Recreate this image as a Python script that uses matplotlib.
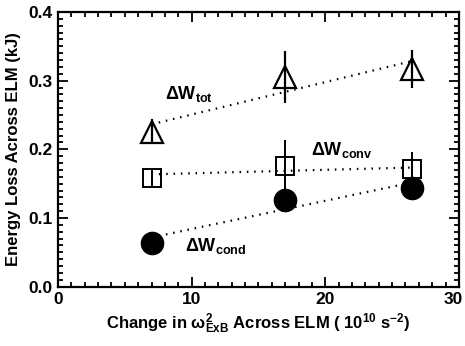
import matplotlib
matplotlib.use("Agg")
import matplotlib.pyplot as plt
from matplotlib.ticker import MultipleLocator

# data
omega = [7.0, 17.0, 26.5]
w_tot = [0.2255, 0.305, 0.317]
w_tot_err = [0.018, 0.038, 0.028]
w_conv = [0.159, 0.176, 0.171]
w_conv_err = [0.012, 0.037, 0.025]
w_cond = [0.063, 0.126, 0.143]

# dotted fit lines (end points)
fit_x = [7.0, 26.5]
fit_tot = [0.2365, 0.3286]
fit_conv = [0.1636, 0.1735]
fit_cond = [0.0717, 0.1518]

font = "Liberation Sans"
plt.rcParams["font.family"] = [font, "DejaVu Sans"]
plt.rcParams["font.weight"] = "bold"
plt.rcParams["axes.labelweight"] = "bold"
plt.rcParams["mathtext.fontset"] = "custom"
plt.rcParams["mathtext.rm"] = font + ":bold"
plt.rcParams["mathtext.bf"] = font + ":bold"
plt.rcParams["mathtext.it"] = font + ":bold"
plt.rcParams["mathtext.default"] = "bf"

fig = plt.figure(figsize=(4.65, 3.46), dpi=100)
ax = fig.add_axes([0.1247, 0.1714, 0.8623, 0.7939])

dots = dict(color="black", lw=1.6, linestyle=(0, (0.7, 2.6)), zorder=1)
ax.plot(fit_x, fit_tot, **dots)
ax.plot(fit_x, fit_conv, **dots)
ax.plot(fit_x, fit_cond, **dots)

ax.errorbar(omega, w_tot, yerr=w_tot_err, fmt="^", ms=16.5, mfc="none",
            mec="black", mew=1.6, ecolor="black", elinewidth=1.6, capsize=0, zorder=3)
ax.errorbar(omega, w_conv, yerr=w_conv_err, fmt="s", ms=12.5, mfc="none",
            mec="black", mew=1.4, ecolor="black", elinewidth=1.4, capsize=0, zorder=3)
ax.plot(omega, w_cond, "o", ms=16, color="black", zorder=4)

lbl = dict(fontsize=13, fontweight="bold")
ax.text(8.0, 0.274, r"$\Delta$W$_{\mathbf{tot}}$", **lbl)
ax.text(18.9, 0.192, r"$\Delta$W$_{\mathbf{conv}}$", **lbl)
ax.text(9.5, 0.052, r"$\Delta$W$_{\mathbf{cond}}$", **lbl)

ax.set_xlim(0, 30)
ax.set_ylim(0, 0.4)
ax.xaxis.set_major_locator(MultipleLocator(10))
ax.xaxis.set_minor_locator(MultipleLocator(1))
ax.yaxis.set_major_locator(MultipleLocator(0.1))
ax.yaxis.set_minor_locator(MultipleLocator(0.01))
ax.yaxis.set_major_formatter(plt.FuncFormatter(lambda v, p: f"{v:.1f}"))
# last x label sits against the right edge, drawn separately
ax.xaxis.set_major_formatter(plt.FuncFormatter(lambda v, p: "" if v >= 30 else f"{v:.0f}"))
ax.tick_params(which="both", direction="in", top=True, right=True, width=1.3,
               labelsize=12.5, pad=4)
ax.tick_params(which="major", length=7)
ax.tick_params(which="minor", length=3.5)
for s in ax.spines.values():
    s.set_linewidth(1.6)
ax.annotate("30", xy=(1.0, 0), xycoords="axes fraction", xytext=(2.5, -4),
            textcoords="offset points", ha="right", va="top",
            fontsize=12.5, fontweight="bold", annotation_clip=False)

ax.set_xlabel(r"Change in $\omega^{2}_{\mathbf{ExB}}$ Across ELM ( 10$^{10}$ s$^{-2}$)",
              fontsize=12, fontweight="bold", labelpad=3)
ax.set_ylabel("Energy Loss Across ELM (kJ)", fontsize=12, fontweight="bold", labelpad=5)

fig.savefig("out.png", dpi=100)
